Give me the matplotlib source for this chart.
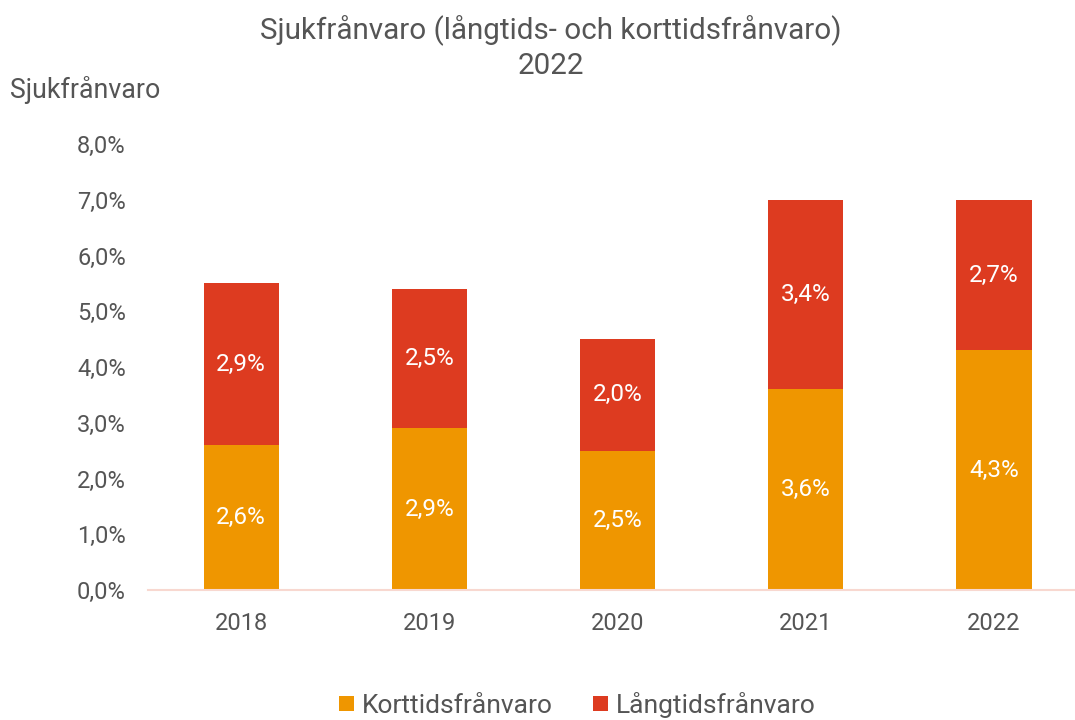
import numpy as np
import matplotlib.pyplot as plt
from matplotlib.ticker import FuncFormatter

plt.rcParams['font.family'] = ['Roboto', 'DejaVu Sans']

years = ['2018', '2019', '2020', '2021', '2022']
kort = [2.6, 2.9, 2.5, 3.6, 4.3]
lang = [2.9, 2.5, 2.0, 3.4, 2.7]

c_kort = '#EF9600'
c_lang = '#DD3B20'
txt = '#555555'

fig = plt.figure(figsize=(10.75, 7.2), dpi=100)
ax = fig.add_axes([0.1377, 0.1806, 0.8623, 0.6194])

x = np.arange(len(years))
b1 = ax.bar(x, kort, width=0.4, color=c_kort, label='Korttidsfrånvaro')
b2 = ax.bar(x, lang, width=0.4, bottom=kort, color=c_lang, label='Långtidsfrånvaro')

for bars, vals, bottoms in [(b1, kort, [0] * 5), (b2, lang, kort)]:
    for i, v in enumerate(vals):
        ax.text(x[i], bottoms[i] + v / 2, f'{v:.1f}%'.replace('.', ','),
                ha='center', va='center', color='white', fontsize=17.5)

ax.set_xlim(-0.495, 4.43)
ax.set_ylim(0, 8)
ax.set_yticks(np.arange(0, 9, 1))
ax.yaxis.set_major_formatter(FuncFormatter(lambda v, p: f'{v:.1f}%'.replace('.', ',')))
ax.set_xticks(x)
ax.set_xticklabels(years)
ax.tick_params(axis='both', length=0, labelsize=17, labelcolor=txt)
ax.tick_params(axis='y', pad=16)
ax.tick_params(axis='x', pad=16)

for s in ['top', 'right', 'left']:
    ax.spines[s].set_visible(False)
ax.spines['bottom'].set_color('#F8D8D0')
ax.spines['bottom'].set_linewidth(1.5)

fig.text(0.512, 0.958, 'Sjukfrånvaro (långtids- och korttidsfrånvaro)', ha='center',
         va='center', fontsize=21.3, color=txt)
fig.text(0.512, 0.908, '2022', ha='center', va='center', fontsize=21.3, color=txt)
fig.text(0.009, 0.875, 'Sjukfrånvaro', ha='left', va='center', fontsize=19.3, color=txt)

leg = fig.legend(handles=[b1, b2], loc='center', bbox_to_anchor=(0.537, 0.021), ncol=2,
                 frameon=False, fontsize=19, handlelength=0.55, handleheight=0.55,
                 handletextpad=0.3, columnspacing=1.55)
for t in leg.get_texts():
    t.set_color(txt)

fig.savefig('out.png', dpi=100)
